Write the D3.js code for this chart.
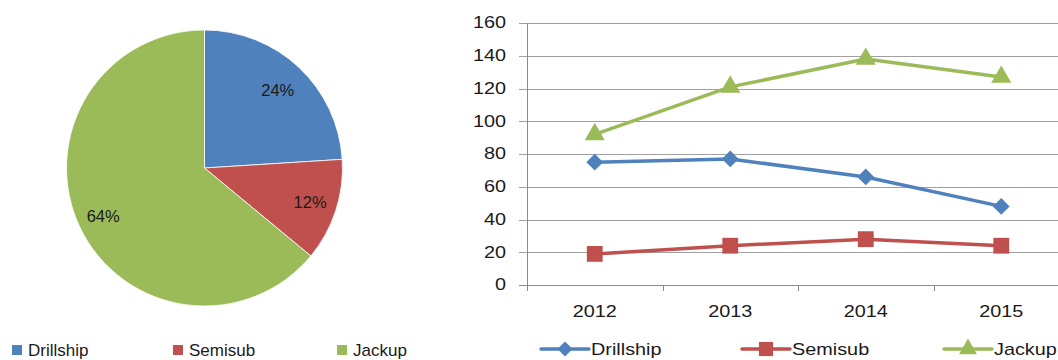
<!DOCTYPE html>
<html>
<head>
<meta charset="utf-8">
<script src="https://cdn.jsdelivr.net/npm/d3@7"></script>
<style>
  html, body { margin: 0; padding: 0; background: #fff; }
  svg { display: block; font-family: "Liberation Sans", Arial, sans-serif; }
</style>
</head>
<body>
<svg id="chart" width="1058" height="360"></svg>
<script>
// Fleet share by rig type (pie)
const rigTypes = ["Drillship", "Semisub", "Jackup"];
const shareValues = [24, 12, 64];

// Rig count by year (lines)
const years = ["2012", "2013", "2014", "2015"];
const drillship = [75, 77, 66, 48];
const semisub = [19, 24, 28, 24];
const jackup = [92, 121, 138, 127];
const yTicks = [0, 20, 40, 60, 80, 100, 120, 140, 160];

const colors = ["#4F81BD", "#C0504D", "#9BBB59"];
const markers = [d3.symbolSquare, d3.symbolSquare, d3.symbolTriangle];
const markerRotate = [45, 0, 0];   // diamond = square turned 45°
const symbolSizes = [140, 250, 175];

const svg = d3.select("#chart");

// ---------- Pie ----------
const pieG = svg.append("g").attr("transform", "translate(204.5,168)");
const radius = 138;
const pie = d3.pie().sort(null).value(d => d);
const arcs = pie(shareValues);
const arc = d3.arc().innerRadius(0).outerRadius(radius);

pieG.selectAll("path.slice")
  .data(arcs)
  .join("path")
  .attr("class", "slice")
  .attr("d", arc)
  .attr("fill", (d, i) => colors[i])
  .attr("stroke", "#ffffff")
  .attr("stroke-width", 0.8);

// percentage labels placed along each slice's mid-angle
const labelRadius = [107, 111, 112];
pieG.selectAll("text.pct")
  .data(arcs)
  .join("text")
  .attr("class", "pct")
  .attr("x", (d, i) => Math.sin((d.startAngle + d.endAngle) / 2) * labelRadius[i])
  .attr("y", (d, i) => -Math.cos((d.startAngle + d.endAngle) / 2) * labelRadius[i])
  .attr("text-anchor", "middle")
  .attr("dominant-baseline", "central")
  .attr("font-size", 16.5)
  .attr("fill", "#1a1a1a")
  .text(d => d.data + "%");

// pie legend
const pieLegendX = [12, 173, 337];
const pieLegend = svg.append("g");
rigTypes.forEach((name, i) => {
  pieLegend.append("rect")
    .attr("x", pieLegendX[i]).attr("y", 345)
    .attr("width", 10).attr("height", 10)
    .attr("fill", colors[i]);
  pieLegend.append("text")
    .attr("x", pieLegendX[i] + 16).attr("y", 356)
    .attr("font-size", 17)
    .attr("fill", "#1a1a1a")
    .text(name);
});

// ---------- Line chart ----------
const stretch = 1.24;  // horizontal stretch of the line-chart lettering
const x = d3.scaleBand().domain(years).range([527, 1069]);
const y = d3.scaleLinear().domain([0, 160]).range([285, 23]);

const grid = svg.append("g");
grid.selectAll("line.grid")
  .data(yTicks)
  .join("line")
  .attr("class", "grid")
  .attr("x1", 519).attr("x2", 1058)
  .attr("y1", d => Math.round(y(d)) + 0.5)
  .attr("y2", d => Math.round(y(d)) + 0.5)
  .attr("stroke", d => d === 0 ? "#8a8a8a" : "#a0a0a0")
  .attr("stroke-width", 1);

// y axis line
svg.append("line")
  .attr("x1", 527.5).attr("x2", 527.5)
  .attr("y1", y(160)).attr("y2", y(0) + 6)
  .attr("stroke", "#8a8a8a");

// y tick labels
svg.append("g").selectAll("text")
  .data(yTicks)
  .join("text")
  .attr("transform", d => `translate(506,${y(d)}) scale(${stretch},1)`)
  .attr("text-anchor", "end")
  .attr("dominant-baseline", "central")
  .attr("font-size", 16)
  .attr("fill", "#1a1a1a")
  .text(d => d);

// x category ticks (band boundaries)
const xBounds = years.map(d => x(d)).concat([x.range()[1]]);
svg.append("g").selectAll("line")
  .data(xBounds.slice(1))
  .join("line")
  .attr("x1", d => Math.round(d) + 0.5).attr("x2", d => Math.round(d) + 0.5)
  .attr("y1", y(0)).attr("y2", y(0) + 6)
  .attr("stroke", "#8a8a8a");

// x labels
svg.append("g").selectAll("text")
  .data(years)
  .join("text")
  .attr("transform", d => `translate(${x(d) + x.bandwidth() / 2},317) scale(${stretch},1)`)
  .attr("text-anchor", "middle")
  .attr("font-size", 16)
  .attr("fill", "#1a1a1a")
  .text(d => d);

const seriesList = [drillship, semisub, jackup];
const line = d3.line()
  .x((d, i) => x(years[i]) + x.bandwidth() / 2)
  .y(d => y(d));

seriesList.forEach((vals, s) => {
  const g = svg.append("g");
  g.append("path")
    .datum(vals)
    .attr("d", line)
    .attr("fill", "none")
    .attr("stroke", colors[s])
    .attr("stroke-width", 3.5)
    .attr("stroke-linejoin", "round");
  g.selectAll("path.marker")
    .data(vals)
    .join("path")
    .attr("class", "marker")
    .attr("transform", (d, i) => `translate(${x(years[i]) + x.bandwidth() / 2},${y(d)}) rotate(${markerRotate[s]})`)
    .attr("d", d3.symbol().type(markers[s]).size(symbolSizes[s]))
    .attr("fill", colors[s]);
});

// line legend
const lineLegendX = [541, 742, 944];
const legend = svg.append("g");
rigTypes.forEach((name, i) => {
  const x0 = lineLegendX[i];
  legend.append("line")
    .attr("x1", x0).attr("x2", x0 + 48)
    .attr("y1", 349).attr("y2", 349)
    .attr("stroke", colors[i])
    .attr("stroke-width", 3.5)
    .attr("stroke-linecap", "round");
  legend.append("path")
    .attr("transform", `translate(${x0 + 24},349) rotate(${markerRotate[i]})`)
    .attr("d", d3.symbol().type(markers[i]).size(symbolSizes[i] * 0.8))
    .attr("fill", colors[i]);
  legend.append("text")
    .attr("transform", `translate(${x0 + 50},355) scale(${stretch},1)`)
    .attr("font-size", 16)
    .attr("fill", "#1a1a1a")
    .text(name);
});
</script>
</body>
</html>
